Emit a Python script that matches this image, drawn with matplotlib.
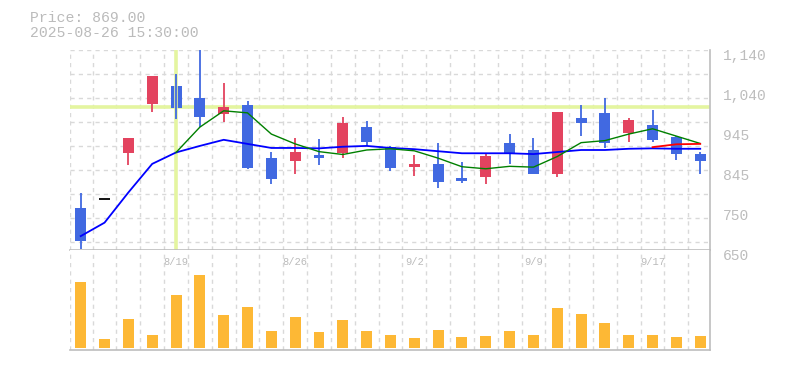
import numpy as np
import matplotlib.pyplot as plt
import matplotlib.transforms as mtransforms

dates = ['8/13', '8/14', '8/15', '8/18', '8/19', '8/20', '8/21', '8/22', '8/25',
         '8/26', '8/27', '8/28', '8/29', '9/1', '9/2', '9/3', '9/4', '9/5', '9/8',
         '9/9', '9/10', '9/11', '9/12', '9/16', '9/17', '9/18', '9/19']
opens = [753, 774, 888, 1008, 1052, 1022, 983, 1005, 875, 869, 883, 888, 951, 902,
         854, 861, 826, 830, 912, 895, 837, 973, 986, 937, 956, 927, 885]
highs = [789, 774, 924, 1076, 1082, 1140, 1060, 1015, 890, 924, 922, 976, 966, 905,
         883, 912, 866, 888, 934, 924, 988, 1005, 1022, 973, 993, 930, 891]
lows = [653, 774, 859, 989, 971, 951, 964, 849, 812, 837, 859, 876, 905, 844,
        832, 803, 815, 812, 861, 835, 830, 930, 901, 915, 915, 871, 837]
closes = [672, 774, 924, 1076, 998, 976, 1000, 852, 825, 890, 876, 961, 915, 852,
          861, 817, 820, 880, 888, 835, 988, 960, 913, 969, 920, 884, 869]
volume = [66, 9, 29, 13, 53, 73, 33, 41, 17, 31, 16, 28, 17, 13, 10, 18, 11, 12,
          17, 13, 40, 34, 25, 13, 13, 11, 12]

ma_blue = [684, 717, 791, 861, 889, 905, 920, 910, 900, 900, 899, 903, 905, 900,
           897, 892, 887, 887, 887, 885, 890, 895, 895, 898, 899, 898, 898]
ma_green = [None, None, None, None, 889, 951, 991, 986, 934, 910, 891, 884, 895,
            898, 893, 875, 854, 849, 855, 853, 879, 913, 918, 934, 947, 929, 911]
ma_red = [None] * 24 + [902, 909, 910]

label_idx = [4, 9, 14, 19, 24]
yticks = [650, 748, 846, 944, 1042, 1140]
cross_x, cross_y = 4, 1000

RED = '#e3435f'
BLUE = '#4169e1'
GRID = '#d9d9d9'
AXC = '#bdbdbd'
TXT = '#bbbbbb'
MONO = 'Liberation Mono'

fig = plt.figure(figsize=(7.85, 3.7), dpi=100)
ax = fig.add_axes([70 / 785, 1 - 250 / 370, 640 / 785, 200 / 370])
axv = fig.add_axes([70 / 785, 1 - 350 / 370, 640 / 785, 100 / 370])

x = np.arange(len(dates))
xlim = (-0.45, len(dates) - 1 + 0.41)

# grid
for a in (ax, axv):
    for g in np.arange(0.5, len(dates), 1.0):
        a.axvline(g, color=GRID, lw=1, ls=(0, (3, 3)), zorder=0)
    a.axvline(xlim[0], color=GRID, lw=1, ls=(0, (3, 3)), zorder=0)
for k in range(9):
    ax.axhline(1140 - k * 58.8, color=GRID, lw=1, ls=(0, (3, 3)), zorder=0)

# crosshair: horizontal under the candles, vertical over bodies but under wicks
ax.axhline(cross_y, color='#e4f5a0', lw=2.6, zorder=1)
ax.plot([cross_x, cross_x], [652, 1140], color='#e4f5a0', lw=2.6, zorder=2.5)

# candles
o = np.array(opens, float)
c = np.array(closes, float)
cols = [RED if cc > oo else (BLUE if cc < oo else 'black') for oo, cc in zip(o, c)]
ax.vlines(x, lows, highs, colors=cols, lw=1.3, zorder=3)
ax.bar(x, np.abs(c - o), bottom=np.minimum(o, c), width=0.46, color=cols, zorder=2)
for i in range(len(x)):
    if o[i] == c[i]:
        ax.hlines(o[i], x[i] - 0.23, x[i] + 0.23, color='black', lw=1.3, zorder=2)

# moving averages
ax.plot(x, ma_blue, color='#0000ff', lw=1.3, zorder=4)
ax.plot(x, np.array(ma_green, dtype=float), color='#008000', lw=1.0, zorder=4)
ax.plot(x, np.array(ma_red, dtype=float), color='#ff0000', lw=1.3, zorder=4)

ax.set_xlim(*xlim)
ax.set_ylim(650, 1140)
ax.set_xticks([])
ax.yaxis.tick_right()
ax.set_yticks(yticks)
ax.set_yticklabels([f'{round(v / 5) * 5:,}' for v in yticks])
ax.tick_params(axis='y', length=0, pad=9, labelsize=10.5, labelcolor=AXC)
off = mtransforms.ScaledTranslation(0, -3 / 72, fig.dpi_scale_trans)
for lab in ax.get_yticklabels():
    lab.set_fontfamily(MONO)
    lab.set_transform(lab.get_transform() + off)
for s in ('left', 'top'):
    ax.spines[s].set_visible(False)
for s in ('right', 'bottom'):
    ax.spines[s].set_color(AXC)
    ax.spines[s].set_linewidth(1.2)

# volume
axv.bar(x, volume, width=0.46, color='#fdb835', zorder=2)
axv.set_xlim(*xlim)
axv.set_ylim(-2, 98)
axv.set_xticks([])
axv.set_yticks([])
for s in ('left', 'top'):
    axv.spines[s].set_visible(False)
for s in ('right', 'bottom'):
    axv.spines[s].set_color(AXC)
    axv.spines[s].set_linewidth(1.2)
trans = mtransforms.blended_transform_factory(axv.transData, axv.transAxes)
for i in label_idx:
    axv.text(i, 0.88, dates[i], transform=trans, ha='center', va='center',
             fontsize=7.5, color=TXT, family=MONO)

fig.text(30 / 785, 1 - 18 / 370, 'Price: 869.00', ha='left', va='center',
         fontsize=10.6, color=TXT, family=MONO)
fig.text(30 / 785, 1 - 33 / 370, '2025-08-26 15:30:00', ha='left', va='center',
         fontsize=10.6, color=TXT, family=MONO)

fig.savefig('out.png', dpi=100)
